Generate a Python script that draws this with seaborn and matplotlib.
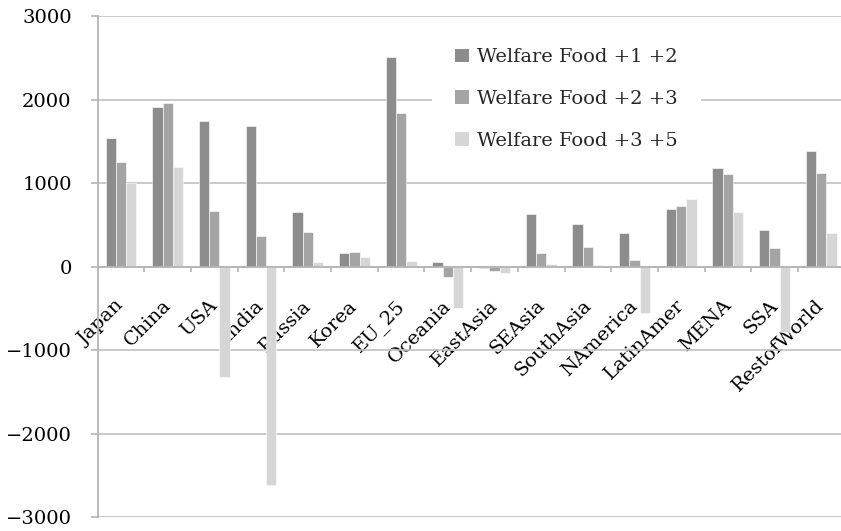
import numpy as np
import pandas as pd
import matplotlib
matplotlib.use("Agg")
import matplotlib.pyplot as plt
import seaborn as sns
from matplotlib.patches import Patch
from matplotlib.transforms import ScaledTranslation

# Welfare change by region under three food-scenario settings
regions = ["Japan", "China", "USA", "India", "Russia", "Korea", "EU_25", "Oceania",
           "EastAsia", "SEAsia", "SouthAsia", "NAmerica", "LatinAmer", "MENA", "SSA",
           "RestofWorld"]
scenarios = ["Welfare Food +1 +2", "Welfare Food +2 +3", "Welfare Food +3 +5"]
welfare_1_2 = [1540, 1910, 1740, 1680, 660, 160, 2505, 55, -20, 630, 510, 405, 690, 1185, 440, 1390]
welfare_2_3 = [1250, 1960, 670, 370, 420, 180, 1835, -125, -50, 160, 240, 80, 725, 1110, 225, 1120]
welfare_3_5 = [1000, 1190, -1320, -2610, 50, 115, 65, -490, -80, 30, 15, -560, 810, 650, -780, 400]
y_ticks = [-3000, -2000, -1000, 0, 1000, 2000, 3000]

colors = ["#8c8c8c", "#a4a4a4", "#d6d6d6"]
grid_gray = "#c0c0c0"
axis_gray = "#b4b4b4"

df = pd.DataFrame({
    "Region": regions * 3,
    "Scenario": [s for s in scenarios for _ in regions],
    "Value": welfare_1_2 + welfare_2_3 + welfare_3_5,
})

sns.set_theme(style="white")
plt.rcParams["font.family"] = ["DejaVu Serif"]
plt.rcParams["axes.unicode_minus"] = True

fig = plt.figure(figsize=(8.41, 5.31), dpi=100)
ax = fig.add_axes([0.1161, 0.0258, 0.8882, 0.944])

sns.barplot(data=df, x="Region", y="Value", hue="Scenario", hue_order=scenarios,
            order=regions, palette=dict(zip(scenarios, colors)), saturation=1,
            width=0.66, edgecolor="white", linewidth=0.4, legend=False, ax=ax)

ax.set_ylim(y_ticks[0], y_ticks[-1])
ax.set_yticks(y_ticks)
ax.yaxis.grid(True, color=grid_gray, lw=1.2)
ax.set_axisbelow(True)
ax.set_xlabel("")
ax.set_ylabel("")

for side in ("top", "right"):
    ax.spines[side].set_visible(False)
ax.spines["left"].set_color(axis_gray)
ax.spines["left"].set_linewidth(1.3)
ax.spines["bottom"].set_position(("data", 0))
ax.spines["bottom"].set_color(axis_gray)
ax.spines["bottom"].set_linewidth(1.3)

ax.tick_params(axis="y", left=True, length=4.7, width=1.2, color=axis_gray,
               direction="out", labelsize=14, pad=14, labelcolor="black")
ax.set_xticks(range(len(regions)))
ax.set_xticks(np.arange(0.5, len(regions) - 1), minor=True)
ax.tick_params(axis="x", which="major", bottom=True, length=0, labelsize=14,
               pad=21.5, labelcolor="black")
ax.tick_params(axis="x", which="minor", bottom=True, length=3.6, width=1.2,
               color=axis_gray, direction="out")
ax.set_xticklabels(regions, rotation=45, ha="right", rotation_mode="anchor")
shift = ScaledTranslation(-6 / 100, 0, fig.dpi_scale_trans)
for lab in ax.get_xticklabels():
    lab.set_transform(lab.get_transform() + shift)

handles = [Patch(facecolor=c, edgecolor="none") for c in colors]
ax.legend(handles, scenarios, loc="center left", bbox_to_anchor=(0.4477, 0.8345),
          frameon=True, facecolor="white", edgecolor="none", framealpha=1,
          fancybox=False, fontsize=14, handlelength=0.7, handleheight=0.7,
          handletextpad=0.4, labelspacing=1.22, borderpad=1.2, borderaxespad=0)

fig.savefig("out.png", dpi=100)
